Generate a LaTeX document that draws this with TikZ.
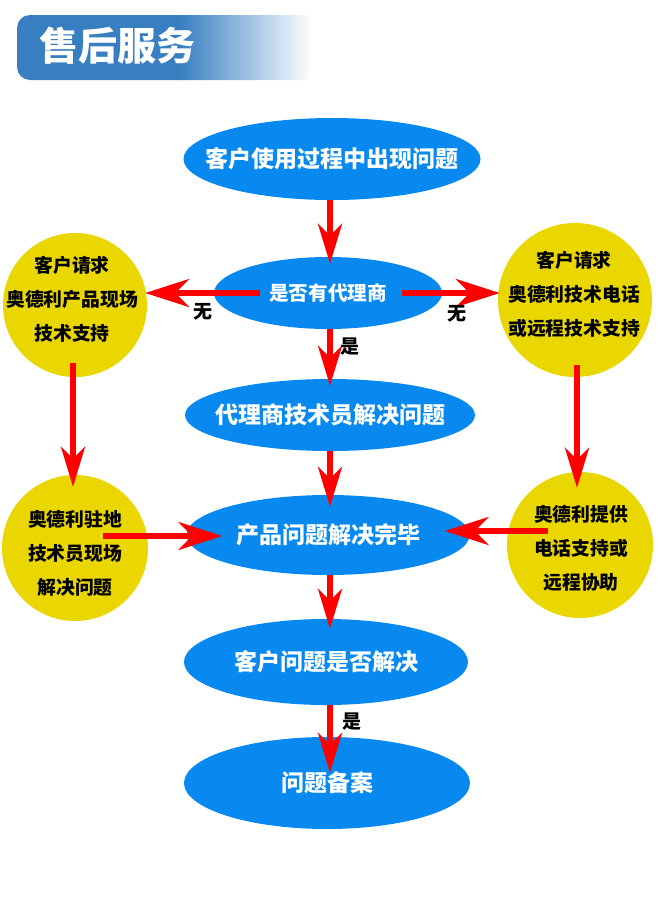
\documentclass[tikz,border=0pt]{standalone}
\usepackage{fontspec}
\setmainfont{Noto Sans CJK SC}
\usetikzlibrary{shapes.geometric,arrows.meta,calc}
\definecolor{flowblue}{RGB}{8,137,240}
\definecolor{flowyellow}{RGB}{234,214,0}
\definecolor{titleblue}{RGB}{56,127,193}
\pgfdeclarehorizontalshading{titlefade}{100bp}{color(0bp)=(titleblue); color(52bp)=(titleblue); color(74bp)=(white); color(100bp)=(white)}
\tikzset{
  blueell/.style={ellipse,fill=flowblue,inner sep=0pt},
  yellowcirc/.style={circle,fill=flowyellow,inner sep=0pt},
  wtxt/.style={text=white,font=\bfseries\fontsize{23}{28}\selectfont},
  btxt/.style={align=center,font=\bfseries\fontsize{18.8}{34}\selectfont},
  ltxt/.style={font=\bfseries\fontsize{19}{22}\selectfont},
  redarr/.style={draw=red,line width=6pt,-{Stealth[length=44pt,width=28pt,inset=14pt]}},
  redarrv/.style={draw=red,line width=6pt,-{Stealth[length=40pt,width=24pt,inset=12pt]}}
}
\begin{document}
\begin{tikzpicture}[x=1pt,y=-1pt]
    \useasboundingbox (0,0) rectangle (660,900);
    \shade[shading=titlefade,rounded corners=13pt] (17,15) rectangle (318,80);
    \node[text=white,font=\bfseries\fontsize{39}{44}\selectfont] (title) at (117,46) {售后服务};

    \node[blueell,minimum width=297pt,minimum height=82pt] (use) at (332,159) {};
    \node[blueell,minimum width=228pt,minimum height=72pt] (agent) at (328,293) {};
    \node[blueell,minimum width=290pt,minimum height=72pt] (agtech) at (330,415) {};
    \node[blueell,minimum width=283pt,minimum height=80pt] (done) at (328,535) {};
    \node[blueell,minimum width=284pt,minimum height=86pt] (check) at (326,662) {};
    \node[blueell,minimum width=286pt,minimum height=92pt] (record) at (327,783) {};
    \node[wtxt] (usetxt) at (use) {客户使用过程中出现问题};
    \node[wtxt,font=\bfseries\fontsize{19.6}{24}\selectfont] (agenttxt) at (agent) {是否有代理商};
    \node[wtxt] (agtechtxt) at (agtech) {代理商技术员解决问题};
    \node[wtxt] (donetxt) at (done) {产品问题解决完毕};
    \node[wtxt] (checktxt) at (check) {客户问题是否解决};
    \node[wtxt] (recordtxt) at (record) {问题备案};

    \node[yellowcirc,minimum size=144pt] (lc1) at (75,305) {};
    \node[yellowcirc,minimum size=154pt] (rc1) at (575,300) {};
    \node[yellowcirc,minimum size=146pt] (lc2) at (75,548) {};
    \node[yellowcirc,minimum size=146pt] (rc2) at (580,545) {};
    \node[btxt] (lc1txt) at (72,299) {客户请求\\奥德利产品现场\\技术支持};
    \node[btxt] (rc1txt) at (574,294) {客户请求\\奥德利技术电话\\或远程技术支持};
    \node[btxt] (lc2txt) at (75,553) {奥德利驻地\\技术员现场\\解决问题};
    \node[btxt] (rc2txt) at (581,548) {奥德利提供\\电话支持或\\远程协助};

    \coordinate (vx) at (330,0);
    \draw[redarrv] (use.south -| vx) -- ($(agent.north -| vx)+(0,7)$);
    \draw[redarr] ($(agent.center)+(-68,0)$) -- ($(lc1.east |- agent.center)+(-2,0)$) node[ltxt,black] at (203,312) {无};
    \draw[redarr] ($(agent.center)+(74,0)$) -- ($(rc1.west |- agent.center)+(2,0)$) node[ltxt,black] at (457,314) {无};
    \draw[redarrv] (agent.south -| vx) -- ($(agtech.north -| vx)+(0,7)$) node[ltxt,black] at (350,347) {是};
    \draw[redarrv] (agtech.south -| vx) -- ($(done.north -| vx)+(0,12)$);
    \draw[redarrv] (done.south -| vx) -- ($(check.north -| vx)+(0,10)$);
    \draw[redarrv] (check.south -| vx) -- ($(record.north -| vx)+(0,36)$) node[ltxt,black] at (352,722) {是};
    \draw[redarrv] ($(lc1.south)+(-2,-14)$) -- ($(lc2.north)+(-2,12)$);
    \draw[redarrv] ($(rc1.south)+(2,-12)$) -- ($(rc1.south |- rc2.north)+(2,16)$);
    \draw[redarr] ($(lc2.center)+(28,-12)$) -- ($(done.west |- lc2.center)+(36,-12)$);
    \draw[redarr] ($(rc2.center)+(-32,-14)$) -- ($(done.east |- rc2.center)+(-25,-14)$);
\end{tikzpicture}
\end{document}
